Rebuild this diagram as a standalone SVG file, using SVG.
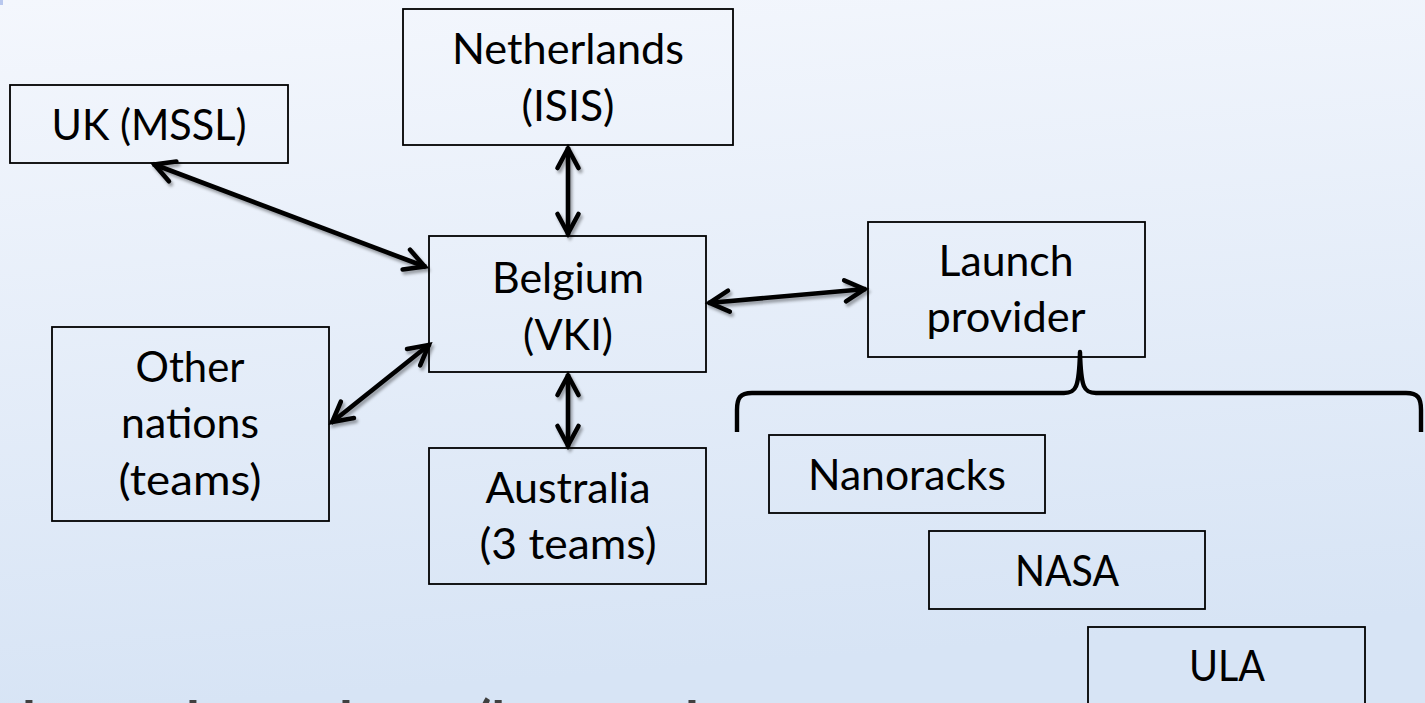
<svg xmlns="http://www.w3.org/2000/svg" width="1425" height="703" viewBox="0 0 1425 703">
  <defs>
    <linearGradient id="bg" x1="0" y1="0" x2="0.15" y2="1">
      <stop offset="0" stop-color="#f4f7fd"/>
      <stop offset="1" stop-color="#d7e4f5"/>
    </linearGradient>
    <filter id="shadow" x="-20%" y="-20%" width="140%" height="140%">
      <feDropShadow dx="2" dy="3" stdDeviation="1.8" flood-color="#000" flood-opacity="0.35"/>
    </filter>
    <marker id="arrow" viewBox="-26 -14 30 28" refX="0" refY="0" markerWidth="30" markerHeight="28" markerUnits="userSpaceOnUse" orient="auto-start-reverse">
      <path d="M-21,-10.5 L-1.5,0 L-21,10.5" fill="none" stroke="#000" stroke-width="4.6" stroke-linecap="round" stroke-linejoin="miter"/>
    </marker>
  </defs>
  <style>
    .box { fill: none; stroke: #000; stroke-width: 1.8; }
    .lbl { font-family: Lato, "Open Sans", "Liberation Sans", sans-serif; font-size: 42px; fill: #000; text-anchor: middle; }
    .conn { fill: none; stroke: #000; stroke-width: 4.6; marker-start: url(#arrow); marker-end: url(#arrow); }
    .brace { fill: none; stroke: #000; stroke-width: 4.4; stroke-linejoin: round; }
    .cut { font-family: Lato, "Open Sans", "Liberation Sans", sans-serif; font-weight: bold; font-size: 56px; fill: #404040; }
  </style>

  <rect x="0" y="0" width="1425" height="703" fill="url(#bg)"/>
  <rect x="0" y="0" width="3" height="5" fill="#b9c8ee"/>

  <g id="connectors" filter="url(#shadow)">
    <line class="conn" x1="153" y1="164" x2="426" y2="267"/>
    <line class="conn" x1="568" y1="147" x2="568" y2="235"/>
    <line class="conn" x1="331" y1="423" x2="430" y2="344"/>
    <line class="conn" x1="568" y1="374" x2="568" y2="447"/>
    <line class="conn" x1="708" y1="303" x2="866" y2="289"/>
  </g>

  <g id="brace">
    <path class="brace" d="M737,432 L737,410 C737,398 740,393 752,393 L1064,393 C1076,393 1079,388 1080,352 C1081,388 1084,393 1096,393 L1406,393 C1418,393 1421,398 1421,410 L1421,432"/>
  </g>

  <g id="node-uk">
    <rect class="box" x="10" y="85" width="278" height="78"/>
    <text class="lbl" x="149" y="140" textLength="195" lengthAdjust="spacingAndGlyphs">UK (MSSL)</text>
  </g>

  <g id="node-netherlands">
    <rect class="box" x="403" y="9" width="330" height="136"/>
    <text class="lbl" x="568" y="64" textLength="232" lengthAdjust="spacingAndGlyphs">Netherlands</text>
    <text class="lbl" x="568" y="121" textLength="93" lengthAdjust="spacingAndGlyphs">(ISIS)</text>
  </g>

  <g id="node-belgium">
    <rect class="box" x="429" y="236" width="277" height="136"/>
    <text class="lbl" x="568" y="293" textLength="152" lengthAdjust="spacingAndGlyphs">Belgium</text>
    <text class="lbl" x="568" y="350" textLength="90" lengthAdjust="spacingAndGlyphs">(VKI)</text>
  </g>

  <g id="node-launch">
    <rect class="box" x="868" y="222" width="277" height="135"/>
    <text class="lbl" x="1006" y="276" textLength="135" lengthAdjust="spacingAndGlyphs">Launch</text>
    <text class="lbl" x="1006" y="332" textLength="159" lengthAdjust="spacingAndGlyphs">provider</text>
  </g>

  <g id="node-other">
    <rect class="box" x="52" y="327" width="277" height="194"/>
    <text class="lbl" x="190" y="382" textLength="109" lengthAdjust="spacingAndGlyphs">Other</text>
    <text class="lbl" x="190" y="438" textLength="138" lengthAdjust="spacingAndGlyphs">nations</text>
    <text class="lbl" x="190" y="495" textLength="143" lengthAdjust="spacingAndGlyphs">(teams)</text>
  </g>

  <g id="node-australia">
    <rect class="box" x="429" y="448" width="277" height="136"/>
    <text class="lbl" x="568" y="503" textLength="165" lengthAdjust="spacingAndGlyphs">Australia</text>
    <text class="lbl" x="568" y="559" textLength="177" lengthAdjust="spacingAndGlyphs">(3 teams)</text>
  </g>

  <g id="node-nanoracks">
    <rect class="box" x="769" y="435" width="276" height="78"/>
    <text class="lbl" x="907" y="490" textLength="198" lengthAdjust="spacingAndGlyphs">Nanoracks</text>
  </g>

  <g id="node-nasa">
    <rect class="box" x="929" y="531" width="276" height="78"/>
    <text class="lbl" x="1067" y="586" textLength="104" lengthAdjust="spacingAndGlyphs">NASA</text>
  </g>

  <g id="node-ula">
    <rect class="box" x="1088" y="627" width="277" height="90"/>
    <text class="lbl" x="1227" y="681" textLength="76" lengthAdjust="spacingAndGlyphs">ULA</text>
  </g>

  <g id="cut-text">
    <text class="cut" y="741"><tspan x="22">l</tspan><tspan x="186">l</tspan><tspan x="339">l</tspan><tspan x="476">(l</tspan><tspan x="685">l</tspan></text>
  </g>
</svg>
